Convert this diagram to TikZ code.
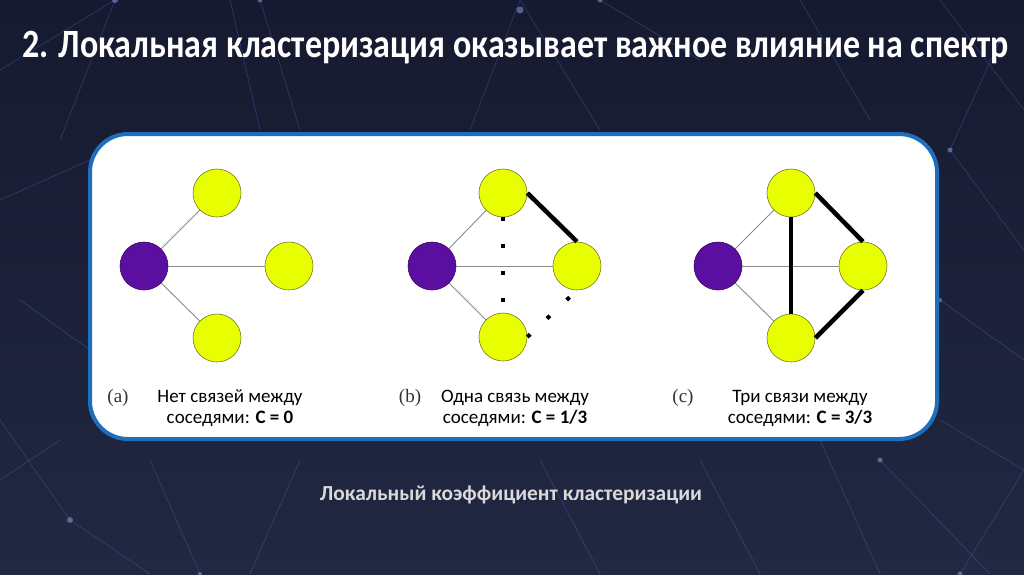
\documentclass[tikz,border=0pt]{standalone}
\usepackage{fontspec}
\setmainfont{Carlito}
\newfontfamily\timesf{Liberation Serif}
\usetikzlibrary{shadings}
\definecolor{bgtop}{RGB}{22,26,48}
\definecolor{bgbot}{RGB}{34,40,66}
\definecolor{netblue}{RGB}{70,110,210}
\definecolor{boxblue}{RGB}{30,110,190}
\definecolor{ylw}{RGB}{232,255,0}
\definecolor{ylwb}{RGB}{120,120,40}
\definecolor{prp}{RGB}{90,15,160}
\definecolor{prpb}{RGB}{60,10,100}
\tikzset{
  x=1pt,y=-1pt,
  yel/.style={circle,fill=ylw,draw=ylwb,line width=0.6pt,minimum size=48pt,inner sep=0pt},
  pur/.style={circle,fill=prp,draw=prpb,line width=0.6pt,minimum size=48pt,inner sep=0pt},
  thin edge/.style={draw=gray!90,line width=0.9pt},
  thick edge/.style={draw=black,line width=4.5pt},
  dot edge/.style={draw=black,line width=4pt,dash pattern=on 4pt off 23pt},
  netline/.style={draw=netblue,line width=0.7pt,opacity=0.35},
  netdot/.style={fill=netblue!60!white,opacity=0.5},
  lbl/.style={font=\fontsize{19}{21}\selectfont,text=black,align=center},
  tag/.style={font=\timesf\fontsize{19}{20}\selectfont,text=black!80},
}
\begin{document}
\begin{tikzpicture}
\useasboundingbox (0,0) rectangle (1024,574);
\shade[top color=bgtop,bottom color=bgbot] (0,0) rectangle (1024,574);
% background network
\foreach \a/\b/\c/\d in {0/70/115/0, 115/0/60/140, 0/200/90/160, 20/300/90/350, 0/420/70/520,
  70/520/150/574, 230/0/260/130, 260/0/300/130, 520/0/470/130, 520/0/600/130, 600/0/700/60,
  940/0/1024/110, 1000/40/950/150, 950/150/1024/250, 940/300/1024/360, 940/420/1024/470,
  1024/470/960/574, 880/460/990/574, 700/460/760/574, 300/460/250/574, 150/460/200/574,
  60/440/0/480, 540/460/600/574, 820/440/880/574, 800/0/870/120}
  {\draw[netline] (\a,\b) -- (\c,\d);}
\foreach \a/\b/\r in {115/0/3, 260/0/2.5, 520/10/3.5, 1000/40/3, 950/150/2.5, 70/520/3, 940/300/2, 880/460/2.5, 600/0/2.5, 200/574/2, 960/574/2.5}
  {\fill[netdot] (\a,\b) circle (\r);}
% title
\node[font=\bfseries\fontsize{34}{40}\selectfont,text=white,anchor=base west,inner sep=0pt] (title) at (22,57) {\scalebox{1}[1.18]{2. Локальная кластеризация оказывает важное влияние на спектр}};
% white box
\draw[fill=white,draw=boxblue,line width=4pt,rounded corners=38pt] (90,134) rectangle (937,439);
% (a)
\node[pur] (a0) at (144,266) {};
\node[yel] (a1) at (217,193) {};
\node[yel] (a2) at (289,266) {};
\node[yel] (a3) at (217,338) {};
\foreach \n in {a1,a2,a3} \draw[thin edge] (a0) -- (\n);
% (b)
\node[pur] (b0) at (432,266) {};
\node[yel] (b1) at (503,193) {};
\node[yel] (b2) at (577,266) {};
\node[yel] (b3) at (503,337) {};
\foreach \n in {b1,b2,b3} \draw[thin edge] (b0) -- (\n);
\draw[thick edge] (b1.east) -- (b2.north);
\draw[dot edge] (b1.south) -- (b3.north);
\draw[dot edge] (b3.east) -- (b2.south);
% (c)
\node[pur] (c0) at (718,266) {};
\node[yel] (c1) at (791,193) {};
\node[yel] (c2) at (863,266) {};
\node[yel] (c3) at (791,338) {};
\foreach \n in {c1,c2,c3} \draw[thin edge] (c0) -- (\n);
\draw[thick edge] (c1.east) -- (c2.north);
\draw[thick edge] (c1.south) -- (c3.north);
\draw[thick edge] (c2.south) -- (c3.east);
% labels
\node[tag] (ta) at (118,398) {(a)};
\node[lbl] (la) at (230,408) {Нет связей между\\соседями: \textbf{C = 0}};
\node[tag] (tb) at (410,398) {(b)};
\node[lbl] (lb) at (515,408) {Одна связь между\\соседями: \textbf{C = 1/3}};
\node[tag] (tc) at (683,398) {(c)};
\node[lbl] (lc) at (800,408) {Три связи между\\соседями: \textbf{C = 3/3}};
% caption
\node[font=\bfseries\fontsize{21.4}{25}\selectfont,text=white!85!black] (cap) at (511,495) {Локальный коэффициент кластеризации};
\end{tikzpicture}
\end{document}
